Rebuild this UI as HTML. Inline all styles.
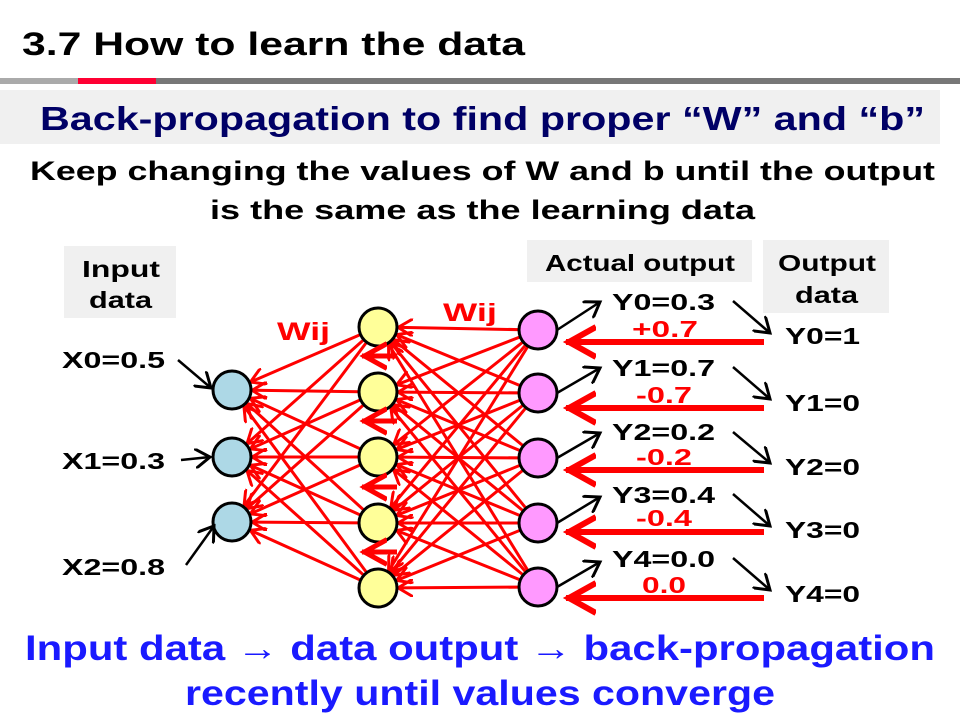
<!DOCTYPE html>
<html><head><style>
body{margin:0;width:960px;height:720px;background:#fff;overflow:hidden;font-family:"Liberation Sans",sans-serif;}
</style></head><body>
<svg width="960" height="720" xmlns="http://www.w3.org/2000/svg" font-family="Liberation Sans, sans-serif" font-weight="bold">
<defs>
<marker id="rc" markerWidth="14" markerHeight="6" refX="11.7" refY="3" orient="auto" markerUnits="strokeWidth"><path d="M0,0 L5,3 L0,6" fill="none" stroke="#f00" stroke-width="1"/></marker>
<marker id="rh" markerWidth="6" markerHeight="6" refX="5" refY="3" orient="auto" markerUnits="strokeWidth"><path d="M0,0.5 L4.5,3 L0,5.5" fill="none" stroke="#f00" stroke-width="1"/></marker>
<marker id="bh" markerWidth="8" markerHeight="8" refX="6" refY="4" orient="auto" markerUnits="strokeWidth"><path d="M0,0 L6,4 L0,8" fill="none" stroke="#000" stroke-width="1.2"/></marker>
</defs>
<text x="22" y="55" font-size="32" textLength="503" lengthAdjust="spacingAndGlyphs">3.7 How to learn the data</text>
<rect x="0" y="78" width="960" height="6" fill="#777"/>
<rect x="0" y="78" width="78" height="6" fill="#aaa"/>
<rect x="78" y="78" width="78" height="6" fill="#f03"/>
<rect x="0" y="90" width="940" height="54" fill="#f0f0f0"/>
<text x="40" y="130" font-size="33" fill="#000066" textLength="885" lengthAdjust="spacingAndGlyphs">Back-propagation  to find proper “W” and “b”</text>
<text x="30" y="180" font-size="27" textLength="905" lengthAdjust="spacingAndGlyphs">Keep changing the values of W and b until the output</text>
<text x="210" y="219" font-size="27" textLength="545" lengthAdjust="spacingAndGlyphs">is the same as the learning data</text>
<rect x="64" y="246" width="112" height="72" fill="#f0f0f0"/>
<text x="82" y="277" font-size="23" textLength="78" lengthAdjust="spacingAndGlyphs">Input</text>
<text x="89" y="308" font-size="23" textLength="63" lengthAdjust="spacingAndGlyphs">data</text>
<rect x="527" y="240" width="225" height="42" fill="#f0f0f0"/>
<text x="545" y="271" font-size="23" textLength="190" lengthAdjust="spacingAndGlyphs">Actual output</text>
<rect x="763" y="240" width="126" height="73" fill="#f0f0f0"/>
<text x="778" y="271" font-size="23" textLength="98" lengthAdjust="spacingAndGlyphs">Output</text>
<text x="795" y="303" font-size="23" textLength="63" lengthAdjust="spacingAndGlyphs">data</text>
<g stroke="#f00" stroke-width="3" fill="none" marker-end="url(#rc)">
<line x1="538" y1="330" x2="378" y2="327"/><line x1="538" y1="330" x2="378" y2="392"/><line x1="538" y1="330" x2="378" y2="457"/><line x1="538" y1="330" x2="378" y2="523"/><line x1="538" y1="330" x2="378" y2="588"/>
<line x1="538" y1="393" x2="378" y2="327"/><line x1="538" y1="393" x2="378" y2="392"/><line x1="538" y1="393" x2="378" y2="457"/><line x1="538" y1="393" x2="378" y2="523"/><line x1="538" y1="393" x2="378" y2="588"/>
<line x1="538" y1="458" x2="378" y2="327"/><line x1="538" y1="458" x2="378" y2="392"/><line x1="538" y1="458" x2="378" y2="457"/><line x1="538" y1="458" x2="378" y2="523"/><line x1="538" y1="458" x2="378" y2="588"/>
<line x1="538" y1="523" x2="378" y2="327"/><line x1="538" y1="523" x2="378" y2="392"/><line x1="538" y1="523" x2="378" y2="457"/><line x1="538" y1="523" x2="378" y2="523"/><line x1="538" y1="523" x2="378" y2="588"/>
<line x1="538" y1="587" x2="378" y2="327"/><line x1="538" y1="587" x2="378" y2="392"/><line x1="538" y1="587" x2="378" y2="457"/><line x1="538" y1="587" x2="378" y2="523"/><line x1="538" y1="587" x2="378" y2="588"/>
<line x1="378" y1="327" x2="232" y2="390"/><line x1="378" y1="327" x2="232" y2="457"/><line x1="378" y1="327" x2="232" y2="522"/>
<line x1="378" y1="392" x2="232" y2="390"/><line x1="378" y1="392" x2="232" y2="457"/><line x1="378" y1="392" x2="232" y2="522"/>
<line x1="378" y1="457" x2="232" y2="390"/><line x1="378" y1="457" x2="232" y2="457"/><line x1="378" y1="457" x2="232" y2="522"/>
<line x1="378" y1="523" x2="232" y2="390"/><line x1="378" y1="523" x2="232" y2="457"/><line x1="378" y1="523" x2="232" y2="522"/>
<line x1="378" y1="588" x2="232" y2="390"/><line x1="378" y1="588" x2="232" y2="457"/><line x1="378" y1="588" x2="232" y2="522"/>
</g>
<g stroke="#000" stroke-width="3">
<circle cx="232" cy="390" r="19" fill="#add8e6"/><circle cx="232" cy="457" r="19" fill="#add8e6"/><circle cx="232" cy="522" r="19" fill="#add8e6"/>
<circle cx="378" cy="327" r="19" fill="#ffff99"/><circle cx="378" cy="392" r="19" fill="#ffff99"/><circle cx="378" cy="457" r="19" fill="#ffff99"/><circle cx="378" cy="523" r="19" fill="#ffff99"/><circle cx="378" cy="588" r="19" fill="#ffff99"/>
<circle cx="538" cy="330" r="19" fill="#ff99ff"/><circle cx="538" cy="393" r="19" fill="#ff99ff"/><circle cx="538" cy="458" r="19" fill="#ff99ff"/><circle cx="538" cy="523" r="19" fill="#ff99ff"/><circle cx="538" cy="587" r="19" fill="#ff99ff"/>
</g>
<g stroke="#f00" fill="none" marker-end="url(#rh)">
<line x1="397" y1="356" x2="362" y2="356" stroke-width="5"/>
<line x1="397" y1="421" x2="362" y2="421" stroke-width="5"/>
<line x1="397" y1="487" x2="362" y2="487" stroke-width="5"/>
<line x1="397" y1="552" x2="362" y2="552" stroke-width="5"/>
<line x1="764" y1="342" x2="566" y2="342" stroke-width="6"/>
<line x1="764" y1="408" x2="566" y2="408" stroke-width="6"/>
<line x1="764" y1="470" x2="566" y2="470" stroke-width="6"/>
<line x1="764" y1="532" x2="566" y2="532" stroke-width="6"/>
<line x1="764" y1="598" x2="566" y2="598" stroke-width="6"/>
</g>
<g stroke="#000" stroke-width="2.5" fill="none" marker-end="url(#bh)">
<line x1="178" y1="360" x2="211" y2="388"/>
<line x1="181" y1="460" x2="210" y2="457"/>
<line x1="186" y1="565" x2="214" y2="526"/>
<line x1="557" y1="330" x2="600" y2="302"/>
<line x1="557" y1="393" x2="600" y2="368"/>
<line x1="557" y1="458" x2="600" y2="433"/>
<line x1="557" y1="523" x2="600" y2="497"/>
<line x1="557" y1="587" x2="600" y2="562"/>
<line x1="733" y1="301" x2="770" y2="333"/>
<line x1="733" y1="367" x2="770" y2="399"/>
<line x1="733" y1="432" x2="770" y2="463"/>
<line x1="733" y1="494" x2="770" y2="526"/>
<line x1="733" y1="558" x2="770" y2="590"/>
</g>
<g font-size="23">
<text x="62" y="368" textLength="103" lengthAdjust="spacingAndGlyphs">X0=0.5</text><text x="62" y="469" textLength="103" lengthAdjust="spacingAndGlyphs">X1=0.3</text><text x="62" y="575" textLength="103" lengthAdjust="spacingAndGlyphs">X2=0.8</text>
<text x="612" y="310" textLength="103" lengthAdjust="spacingAndGlyphs">Y0=0.3</text><text x="612" y="376" textLength="103" lengthAdjust="spacingAndGlyphs">Y1=0.7</text><text x="612" y="440" textLength="103" lengthAdjust="spacingAndGlyphs">Y2=0.2</text><text x="612" y="503" textLength="103" lengthAdjust="spacingAndGlyphs">Y3=0.4</text><text x="612" y="567" textLength="103" lengthAdjust="spacingAndGlyphs">Y4=0.0</text>
<text x="785" y="344" textLength="75" lengthAdjust="spacingAndGlyphs">Y0=1</text><text x="785" y="411" textLength="75" lengthAdjust="spacingAndGlyphs">Y1=0</text><text x="785" y="475" textLength="75" lengthAdjust="spacingAndGlyphs">Y2=0</text><text x="785" y="538" textLength="75" lengthAdjust="spacingAndGlyphs">Y3=0</text><text x="785" y="602" textLength="75" lengthAdjust="spacingAndGlyphs">Y4=0</text>
</g>
<g font-size="23" fill="#f00">
<text x="632" y="337" textLength="66" lengthAdjust="spacingAndGlyphs">+0.7</text>
<text x="636" y="403" textLength="56" lengthAdjust="spacingAndGlyphs">-0.7</text>
<text x="636" y="465" textLength="56" lengthAdjust="spacingAndGlyphs">-0.2</text>
<text x="636" y="526" textLength="56" lengthAdjust="spacingAndGlyphs">-0.4</text>
<text x="642" y="593" textLength="44" lengthAdjust="spacingAndGlyphs">0.0</text>
<text x="277" y="340" font-size="25" textLength="53" lengthAdjust="spacingAndGlyphs">Wij</text>
<text x="443" y="321" font-size="25" textLength="54" lengthAdjust="spacingAndGlyphs">Wij</text>
</g>
<text x="25" y="660" font-size="35" fill="#1a1aff" textLength="910" lengthAdjust="spacingAndGlyphs">Input data → data output → back-propagation</text>
<text x="185" y="705" font-size="35" fill="#1a1aff" textLength="590" lengthAdjust="spacingAndGlyphs">recently until values converge</text>
</svg>
</body></html>
